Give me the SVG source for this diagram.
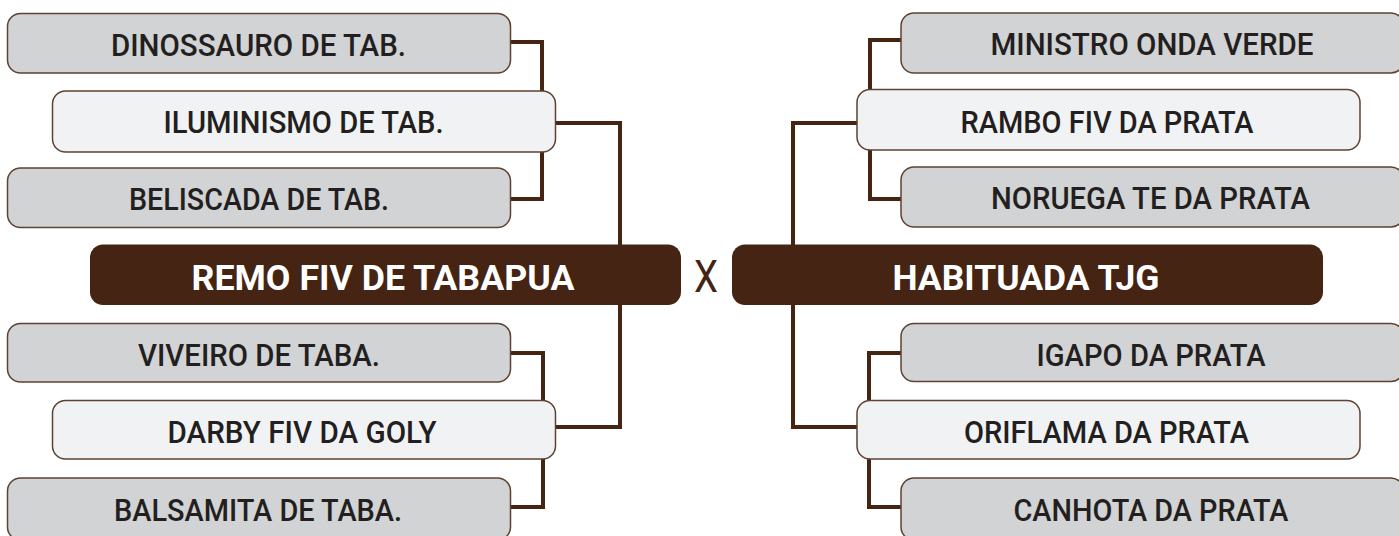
<svg xmlns="http://www.w3.org/2000/svg" width="1399" height="536" viewBox="0 0 1399 536">
<style>
.g{fill:#d1d3d4;stroke:#5e4232;stroke-width:1.5}
.l{fill:#f1f2f4;stroke:#5e4232;stroke-width:1.5}
.m{fill:#452414}
.t{font-family:Roboto,"Liberation Sans",sans-serif;font-weight:500;font-size:32px;fill:#231f20;text-anchor:middle}
.mt{font-family:Roboto,"Liberation Sans",sans-serif;font-weight:700;font-size:35px;fill:#ffffff;text-anchor:middle}
.x{font-family:Roboto,"Liberation Sans",sans-serif;font-weight:400;font-size:45px;fill:#452414;text-anchor:middle}
.c{fill:none;stroke:#452414;stroke-width:4}
</style>
<g id="connectors">
<path class="c" d="M510 42 H542 V199 H510"/>
<path class="c" d="M555 123 H620 V427 H555"/>
<path class="c" d="M510 353 H543 V507 H510"/>
<path class="c" d="M901 40 H870 V199 H901"/>
<path class="c" d="M857 123 H793 V427 H857"/>
<path class="c" d="M901 353 H869 V507 H901"/>
</g>
<g id="dinossauro"><rect class="g" x="7.5" y="13.5" width="503" height="59.5" rx="13"/><text class="t" x="258.5" y="56" textLength="295" lengthAdjust="spacingAndGlyphs">DINOSSAURO DE TAB.</text></g>
<g id="iluminismo"><rect class="l" x="52.5" y="91" width="503" height="61" rx="13"/><text class="t" x="303.5" y="133" textLength="280" lengthAdjust="spacingAndGlyphs">ILUMINISMO DE TAB.</text></g>
<g id="beliscada"><rect class="g" x="7.5" y="168" width="503" height="59.5" rx="13"/><text class="t" x="259" y="210" textLength="260" lengthAdjust="spacingAndGlyphs">BELISCADA DE TAB.</text></g>
<g id="remo"><rect class="m" x="90" y="244.5" width="591" height="60.5" rx="13"/><text class="mt" x="383" y="290" textLength="383" lengthAdjust="spacingAndGlyphs">REMO FIV DE TABAPUA</text></g>
<g id="vs"><text class="x" x="706" y="292" textLength="24" lengthAdjust="spacingAndGlyphs">X</text></g>
<g id="viveiro"><rect class="g" x="7.5" y="323.5" width="503" height="58.5" rx="13"/><text class="t" x="259" y="366" textLength="242" lengthAdjust="spacingAndGlyphs">VIVEIRO DE TABA.</text></g>
<g id="darby"><rect class="l" x="52.5" y="400.5" width="503" height="58.5" rx="13"/><text class="t" x="302" y="443" textLength="269" lengthAdjust="spacingAndGlyphs">DARBY FIV DA GOLY</text></g>
<g id="balsamita"><rect class="g" x="7.5" y="478" width="503" height="62" rx="13"/><text class="t" x="258" y="521" textLength="288" lengthAdjust="spacingAndGlyphs">BALSAMITA DE TABA.</text></g>
<g id="ministro"><rect class="g" x="901" y="13" width="503" height="60" rx="13"/><text class="t" x="1152" y="55" textLength="323" lengthAdjust="spacingAndGlyphs">MINISTRO ONDA VERDE</text></g>
<g id="rambo"><rect class="l" x="857" y="89.5" width="503" height="60.5" rx="13"/><text class="t" x="1107" y="133" textLength="293" lengthAdjust="spacingAndGlyphs">RAMBO FIV DA PRATA</text></g>
<g id="noruega"><rect class="g" x="901" y="167" width="503" height="60" rx="13"/><text class="t" x="1150.5" y="209" textLength="319" lengthAdjust="spacingAndGlyphs">NORUEGA TE DA PRATA</text></g>
<g id="habituada"><rect class="m" x="732" y="244.5" width="591" height="60.5" rx="13"/><text class="mt" x="1026" y="290" textLength="267" lengthAdjust="spacingAndGlyphs">HABITUADA TJG</text></g>
<g id="igapo"><rect class="g" x="901" y="323.5" width="503" height="58" rx="13"/><text class="t" x="1151" y="366" textLength="229" lengthAdjust="spacingAndGlyphs">IGAPO DA PRATA</text></g>
<g id="oriflama"><rect class="l" x="857" y="400.5" width="503" height="58.5" rx="13"/><text class="t" x="1106.5" y="443" textLength="285" lengthAdjust="spacingAndGlyphs">ORIFLAMA DA PRATA</text></g>
<g id="canhota"><rect class="g" x="901" y="478" width="503" height="62" rx="13"/><text class="t" x="1151" y="521" textLength="275" lengthAdjust="spacingAndGlyphs">CANHOTA DA PRATA</text></g>
</svg>
